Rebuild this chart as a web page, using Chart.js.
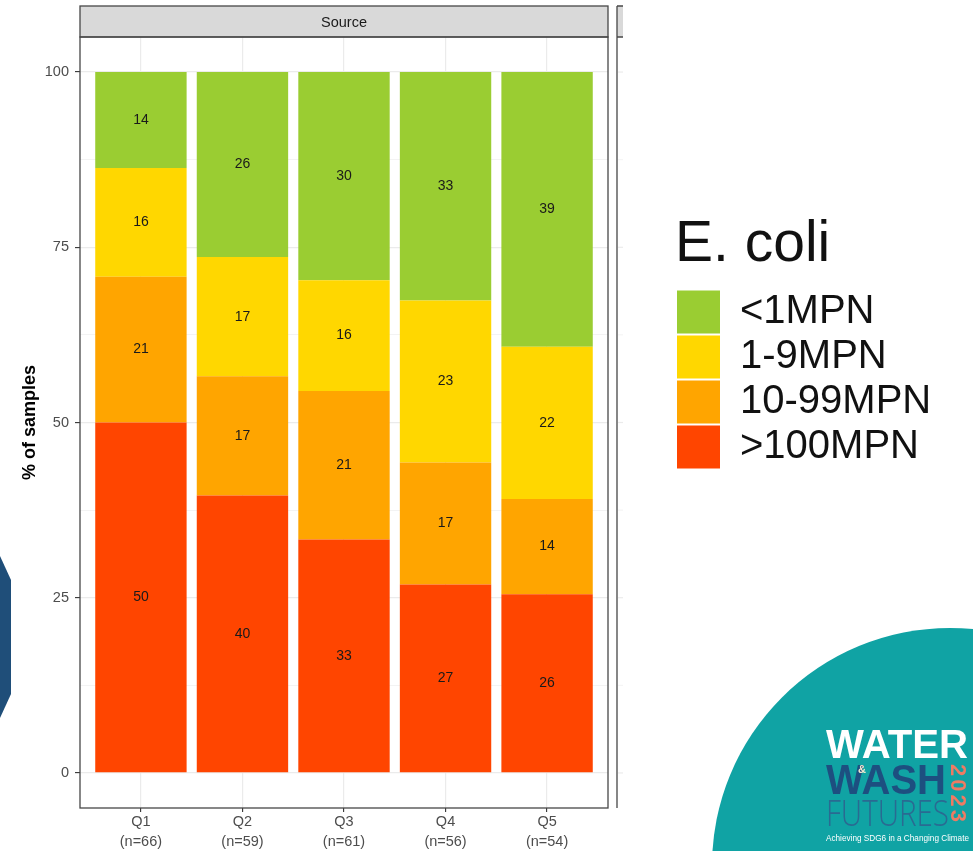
<!DOCTYPE html>
<html>
<head>
<meta charset="utf-8">
<title>E. coli by quintile</title>
<script src="https://cdn.jsdelivr.net/npm/chart.js@4.4.1/dist/chart.umd.min.js"></script>
<style>
  html, body { margin: 0; padding: 0; background: #fff; }
  #wrap { width: 973px; height: 851px; }
</style>
</head>
<body>
<div id="wrap"><canvas id="ecoliChart" width="973" height="851"></canvas></div>
<script>
// Data
const quintiles = ["Q1", "Q2", "Q3", "Q4", "Q5"];
const sampleSizes = [66, 59, 61, 56, 54];
const yTickValues = [0, 25, 50, 75, 100];

// % of samples per E. coli class (bottom -> top of each bar)
const over100 = [50.0, 39.6, 33.3, 26.9, 25.5];
const mpn10to99 = [20.8, 17.0, 21.2, 17.4, 13.6];
const mpn1to9 = [15.5, 17.0, 15.8, 23.1, 21.7];
const under1 = [13.7, 26.4, 29.7, 32.6, 39.2];

const classNames = [">100MPN", "10-99MPN", "1-9MPN", "<1MPN"];
const classColors = ["#FF4500", "#FFA500", "#FFD700", "#9ACD32"];
const classValues = [over100, mpn10to99, mpn1to9, under1];

const FONT = '"Liberation Sans", Arial, sans-serif';
Chart.defaults.font.family = FONT;

// layout numbers
const panelRight = 608;
const legendLeft = 675;
const legendFont = 40;
const legendBox = 43;
const lineCol = "#474747";

// legend width, so the panel stops where the facet does
// (chart.js adds ~10px more than box + gap + text)
const mctx = document.createElement("canvas").getContext("2d");
mctx.font = legendFont + "px " + FONT;
const widest = Math.max(...classNames.map(t => mctx.measureText(t).width));
const legendWidth = 12 + legendBox + legendFont / 2 + widest;

// minor grid lines halfway between the major ones
const minorTicks = yTickValues.slice(1).map((v, i) => (v + yTickValues[i]) / 2);
const isMajor = v => yTickValues.includes(v);

// === facet strip, panel border, value labels ===
const facetPlugin = {
  id: "facet",
  beforeDraw(chart) {
    const { ctx, chartArea: a } = chart;
    const y = chart.scales.y;
    ctx.save();
    ctx.fillStyle = "#d9d9d9";
    ctx.fillRect(a.left, 6, a.right - a.left, a.top - 6);
    ctx.fillRect(617, 6, 6, a.top - 6);
    // grid of the next (cut off) panel
    ctx.strokeStyle = "#ebebeb";
    yTickValues.concat(minorTicks).forEach(v => {
      ctx.lineWidth = isMajor(v) ? 1.2 : 0.6;
      const py = y.getPixelForValue(v);
      ctx.beginPath();
      ctx.moveTo(618, py);
      ctx.lineTo(623, py);
      ctx.stroke();
    });
    ctx.fillStyle = "#1a1a1a";
    ctx.font = "14.5px " + FONT;
    ctx.textAlign = "center";
    ctx.textBaseline = "middle";
    ctx.fillText("Source", (a.left + a.right) / 2, (6 + a.top) / 2 + 1);
    ctx.restore();
  },
  afterDatasetsDraw(chart) {
    const { ctx, chartArea: a } = chart;
    ctx.save();
    ctx.font = "14px " + FONT;
    ctx.fillStyle = "#1a1a1a";
    ctx.textAlign = "center";
    ctx.textBaseline = "middle";
    chart.data.datasets.forEach((ds, di) => {
      chart.getDatasetMeta(di).data.forEach((bar, i) => {
        const v = classValues[di][i];
        ctx.fillText(String(Math.round(v)), bar.x, (bar.y + bar.base) / 2);
      });
    });
    ctx.strokeStyle = lineCol;
    ctx.lineWidth = 1.3;
    ctx.strokeRect(a.left, a.top, a.right - a.left, a.bottom - a.top);
    ctx.strokeRect(a.left, 6, a.right - a.left, a.top - 6);
    ctx.beginPath();
    ctx.moveTo(617, 6);
    ctx.lineTo(617, a.bottom);
    ctx.moveTo(617, 6);
    ctx.lineTo(623, 6);
    ctx.moveTo(617, a.top);
    ctx.lineTo(623, a.top);
    ctx.stroke();
    ctx.restore();
  }
};

// === slide decoration (left tab and conference logo) ===
const decorPlugin = {
  id: "decor",
  afterDraw(chart) {
    const ctx = chart.ctx;
    ctx.save();
    ctx.fillStyle = "#1f4e79";
    ctx.beginPath();
    ctx.moveTo(0, 556);
    ctx.lineTo(11, 580);
    ctx.lineTo(11, 694);
    ctx.lineTo(0, 718);
    ctx.closePath();
    ctx.fill();

    ctx.fillStyle = "#10a3a4";
    ctx.beginPath();
    ctx.arc(950, 866, 238, 0, Math.PI * 2);
    ctx.fill();

    ctx.textAlign = "left";
    ctx.textBaseline = "alphabetic";
    ctx.fillStyle = "#ffffff";
    ctx.font = "bold 41px " + FONT;
    ctx.fillText("WATER", 826, 758, 142);
    ctx.fillStyle = "#1d4f80";
    ctx.font = "bold 43px " + FONT;
    ctx.fillText("WASH", 826, 794, 120);
    ctx.fillStyle = "#f3ead0";
    ctx.font = "bold 11px " + FONT;
    ctx.fillText("&", 858, 773);
    ctx.fillStyle = "#2a6a92";
    ctx.font = '300 37px "Open Sans", ' + FONT;
    ctx.fillText("FUTURES", 826, 826, 123);
    ctx.fillStyle = "#ffffff";
    ctx.font = "9.5px " + FONT;
    ctx.fillText("Achieving SDG6 in a Changing Climate", 826, 841, 143);

    ctx.translate(951, 764);
    ctx.rotate(Math.PI / 2);
    ctx.fillStyle = "#ef7b63";
    ctx.font = "bold 22px " + FONT;
    ctx.letterSpacing = "3px";
    ctx.fillText("2023", 0, 0);
    ctx.restore();
  }
};

// === stacked bars ===
const ctx = document.getElementById("ecoliChart").getContext("2d");
const ecoliChart = new Chart(ctx, {
  type: "bar",
  data: {
    datasets: classNames.map((name, k) => ({
      label: name,
      data: classValues[k].map((v, i) => ({ x: i + 1, y: v })),
      backgroundColor: classColors[k],
      borderWidth: 0,
      categoryPercentage: 1,
      barPercentage: 0.9
    }))
  },
  options: {
    responsive: false,
    animation: false,
    layout: { padding: { top: 37, right: 973 - legendLeft - legendWidth, bottom: 0, left: 0 } },
    plugins: {
      tooltip: { enabled: false },
      legend: {
        position: "right",
        align: "start",
        reverse: true,
        maxWidth: 500,
        title: {
          display: true,
          text: "E. coli",
          position: "start",
          color: "#111",
          font: { size: 57 },
          padding: { top: 180, bottom: 3 }
        },
        labels: {
          boxWidth: legendBox,
          boxHeight: legendBox,
          padding: 2,
          color: "#111",
          font: { size: legendFont }
        }
      }
    },
    scales: {
      x: {
        type: "linear",
        min: 0.4,
        max: 5.6,
        offset: false,
        stacked: true,
        afterBuildTicks: s => { s.ticks = quintiles.map((q, i) => ({ value: i + 1 })); },
        afterFit: s => { s.height = 43; },
        border: { display: false },
        grid: { offset: false, color: "#ebebeb", lineWidth: 1.2, tickLength: 4, tickColor: "#333", tickWidth: 1.1 },
        ticks: {
          padding: 0,
          autoSkip: false,
          maxRotation: 0,
          color: "#4d4d4d",
          font: { size: 14.5, lineHeight: 1.38 },
          callback: v => [quintiles[v - 1], "(n=" + sampleSizes[v - 1] + ")"]
        }
      },
      y: {
        min: -5,
        max: 105,
        stacked: true,
        afterBuildTicks: s => {
          s.ticks = yTickValues.concat(minorTicks).sort((a, b) => a - b).map(v => ({ value: v }));
        },
        afterFit: s => { s.width = 80; },
        border: { display: false },
        grid: {
          color: "#ebebeb",
          lineWidth: c => (c.tick && isMajor(c.tick.value) ? 1.2 : 0.6),
          tickLength: 5,
          tickWidth: 1.1,
          tickColor: c => (c.tick && isMajor(c.tick.value) ? "#333" : "rgba(0,0,0,0)")
        },
        ticks: {
          padding: 6,
          color: "#4d4d4d",
          font: { size: 14.5 },
          callback: v => (isMajor(v) ? v : "")
        },
        title: {
          display: true,
          text: "% of samples",
          color: "#000",
          font: { size: 18, weight: "bold" },
          padding: { top: 19, bottom: 0 }
        }
      },
      gap: {
        type: "linear",
        position: "right",
        grid: { display: false, drawTicks: false },
        ticks: { display: false },
        border: { display: false },
        afterFit: s => { s.width = legendLeft - panelRight; }
      }
    }
  },
  plugins: [facetPlugin, decorPlugin]
});
</script>
</body>
</html>
